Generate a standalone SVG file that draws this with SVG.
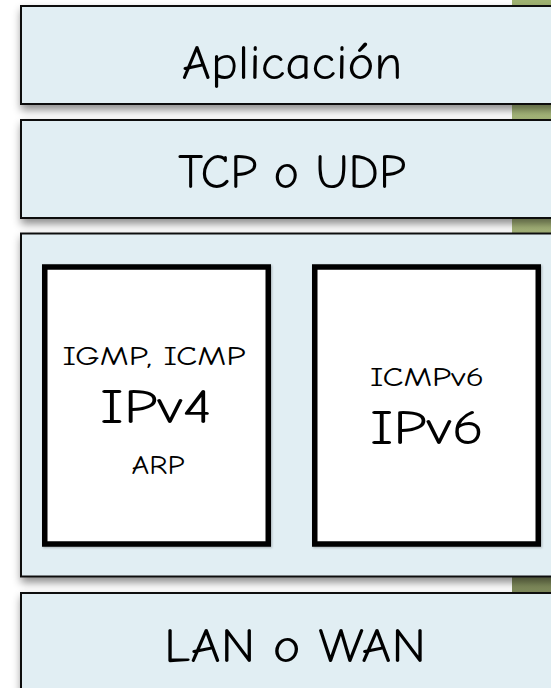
<svg xmlns="http://www.w3.org/2000/svg" width="551" height="688" viewBox="0 0 551 688">
  <defs>
    <linearGradient id="strip" x1="0" y1="0" x2="0" y2="1">
      <stop offset="0" stop-color="#9fb271"/>
      <stop offset="0.2" stop-color="#a8b97c"/>
      <stop offset="0.4" stop-color="#a4b177"/>
      <stop offset="0.8" stop-color="#85915f"/>
      <stop offset="1" stop-color="#737e52"/>
    </linearGradient>
    <filter id="layerShadow" x="-5%" y="-10%" width="115%" height="130%">
      <feDropShadow dx="1" dy="5" stdDeviation="4" flood-color="#000" flood-opacity="0.45"/>
    </filter>
    <filter id="boxShadow" x="-5%" y="-5%" width="115%" height="115%">
      <feDropShadow dx="1" dy="1" stdDeviation="1" flood-color="#000" flood-opacity="0.25"/>
    </filter>
  </defs>
  <style>
    .layer { fill: #e1eef3; stroke: #111; stroke-width: 2; filter: url(#layerShadow); }
    .proto { fill: #fff; stroke: #000; stroke-width: 5.5; filter: url(#boxShadow); }
    text { font-family: "Comic Sans MS", "Comic Neue", "DejaVu Sans", sans-serif; fill: #000; text-anchor: middle; }
    .big { font-size: 48px; }
    .mid { font-size: 49px; }
    .small { font-size: 27px; }
  </style>

  <rect width="551" height="688" fill="#fff"/>
  <!-- green edge strip behind the layers -->
  <rect x="512" y="0" width="39" height="688" fill="url(#strip)"/>

  <g id="layer-app">
    <rect class="layer" x="21" y="6" width="560" height="98"/>
    <text class="big" x="292" y="79" textLength="221" lengthAdjust="spacingAndGlyphs">Aplicación</text>
  </g>

  <g id="layer-transport">
    <rect class="layer" x="21" y="120" width="560" height="98"/>
    <text class="big" x="292" y="188" textLength="228" lengthAdjust="spacingAndGlyphs">TCP o UDP</text>
  </g>

  <g id="layer-network">
    <rect class="layer" x="21" y="233.5" width="560" height="343"/>
  </g>

  <g id="box-ipv4">
    <rect class="proto" x="44.75" y="267" width="223.5" height="277"/>
    <text class="small" x="154" y="365" textLength="183" lengthAdjust="spacingAndGlyphs">IGMP, ICMP</text>
    <text class="mid" x="156" y="423" textLength="112" lengthAdjust="spacingAndGlyphs">IPv4</text>
    <text class="small" x="158" y="474" textLength="53" lengthAdjust="spacingAndGlyphs">ARP</text>
  </g>

  <g id="box-ipv6">
    <rect class="proto" x="314.75" y="267" width="223.5" height="277"/>
    <text class="small" x="427" y="386" textLength="114" lengthAdjust="spacingAndGlyphs">ICMPv6</text>
    <text class="mid" x="427" y="444" textLength="114" lengthAdjust="spacingAndGlyphs">IPv6</text>
  </g>

  <g id="layer-link">
    <rect class="layer" x="21" y="593" width="560" height="120"/>
    <text class="big" x="295" y="662" textLength="262" lengthAdjust="spacingAndGlyphs">LAN o WAN</text>
  </g>
</svg>
